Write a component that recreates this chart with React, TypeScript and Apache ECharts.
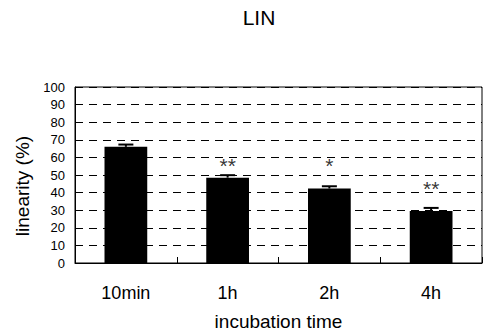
import React, { useEffect, useRef } from "react";
import * as echarts from "echarts";

// Incubation time points
const categories = ["10min", "1h", "2h", "4h"];
// Mean linearity (%) per time point
const means = [66, 48.5, 42.3, 29.5];
// Standard error per time point
const errors = [1.3, 1.4, 1.3, 1.8];
// Significance marks and the value level where each is drawn
const sigMarks = ["", "**", "*", "**"];
const sigLevels = [null, 55.5, 55.5, 42.5];

const yTicks = { min: 0, max: 100, interval: 10 };

const FONT = "Liberation Sans, Arial, sans-serif";

export default function App() {
  const ref = useRef<HTMLDivElement>(null);

  useEffect(() => {
    if (!ref.current) return;
    const chart = echarts.init(ref.current, null, { renderer: "svg" });

    const errData = categories.map((c, i) => [i, means[i], errors[i]]);
    const sigData = categories
      .map((c, i) => (sigLevels[i] == null ? null : { value: [i, sigLevels[i]], mark: sigMarks[i] }))
      .filter((d) => d != null);

    chart.setOption({
      animation: false,
      textStyle: { fontFamily: FONT, color: "#000" },
      title: {
        text: "LIN",
        left: 254,
        textAlign: "center",
        top: 2,
        textStyle: { fontFamily: FONT, fontSize: 21, fontWeight: "normal", color: "#000" },
      },
      grid: {
        left: 75,
        right: 6,
        top: 87,
        bottom: 73,
        show: true,
        borderColor: "#000",
        borderWidth: 1,
        backgroundColor: "transparent",
      },
      xAxis: {
        type: "category",
        data: categories,
        boundaryGap: true,
        name: "incubation time",
        nameLocation: "middle",
        nameGap: 49,
        nameTextStyle: { fontFamily: FONT, fontSize: 19, color: "#000" },
        axisLine: { show: true, lineStyle: { color: "#000", width: 1 } },
        axisTick: { show: true, inside: true, length: 6, lineStyle: { color: "#000" } },
        axisLabel: { fontFamily: FONT, fontSize: 18, color: "#000", margin: 21 },
        splitLine: { show: false },
      },
      yAxis: {
        type: "value",
        min: yTicks.min,
        max: yTicks.max,
        interval: yTicks.interval,
        name: "linearity (%)",
        nameLocation: "middle",
        nameGap: 31,
        nameTextStyle: { fontFamily: FONT, fontSize: 19, color: "#000", padding: [0, 22, 0, 0] },
        axisLine: { show: true, lineStyle: { color: "#000", width: 1 } },
        axisTick: { show: false },
        axisLabel: { fontFamily: FONT, fontSize: 13, color: "#000", margin: 10 },
        splitLine: { show: true, lineStyle: { color: "#000", width: 1, type: [8, 6] } },
      },
      series: [
        {
          type: "bar",
          data: means,
          barWidth: "42%",
          itemStyle: { color: "#000" },
          z: 2,
        },
        {
          type: "custom",
          data: errData,
          z: 3,
          renderItem: (params: any, api: any) => {
            const i = api.value(0);
            const m = api.value(1);
            const e = api.value(2);
            const base = api.coord([i, m]);
            const top = api.coord([i, m + e]);
            const hw = 7.5;
            return {
              type: "group",
              children: [
                {
                  type: "line",
                  shape: { x1: base[0], y1: base[1], x2: top[0], y2: top[1] },
                  style: { stroke: "#000", lineWidth: 2 },
                },
                {
                  type: "line",
                  shape: { x1: top[0] - hw, y1: top[1], x2: top[0] + hw, y2: top[1] },
                  style: { stroke: "#000", lineWidth: 2 },
                },
              ],
            };
          },
        },
        {
          type: "scatter",
          data: sigData,
          symbolSize: 0,
          z: 4,
          label: {
            show: true,
            position: "inside",
            formatter: (p: any) => p.data.mark,
            fontFamily: FONT,
            fontSize: 21,
            color: "#000",
          },
        },
      ],
    });

    return () => chart.dispose();
  }, []);

  return (
    <div
      ref={ref}
      style={{ position: "fixed", left: 0, top: 0, width: 488, height: 336, background: "#fff" }}
    />
  );
}
